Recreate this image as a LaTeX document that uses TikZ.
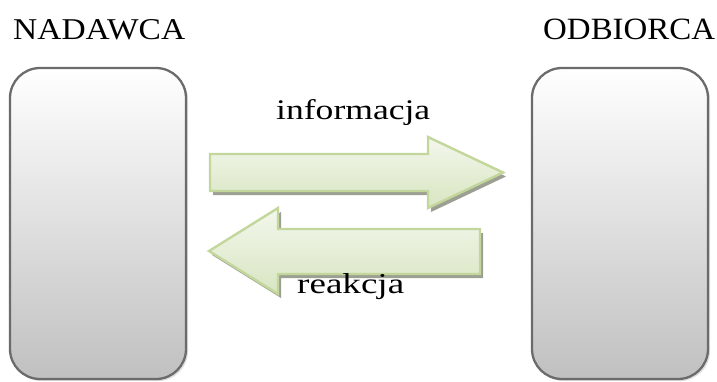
\documentclass[tikz,border=0pt]{standalone}
\usepackage{fontspec}
\setmainfont{Liberation Serif}
\usepackage{graphicx}
\usetikzlibrary{shadows}

\definecolor{boxline}{HTML}{6B6B6B}
\definecolor{boxbottom}{HTML}{C0C0C0}
\definecolor{arrowline}{HTML}{C3D69B}
\definecolor{arrowtop}{HTML}{F3F7EC}
\definecolor{arrowbottom}{HTML}{D8E5C1}
\definecolor{arrowshade}{HTML}{8A8F80}

\tikzset{
  party/.style={rectangle, rounded corners=30pt, draw=boxline, line width=2.3pt,
    top color=white, bottom color=boxbottom, minimum width=176pt,
    minimum height=311pt, inner sep=0pt,
    drop shadow={shadow xshift=2pt, shadow yshift=-2pt, fill=gray!45, opacity=0.6}},
  flow/.style={draw=arrowline, line width=2.4pt, line join=miter,
    top color=arrowtop, bottom color=arrowbottom,
    drop shadow={shadow xshift=3pt, shadow yshift=-4pt, fill=arrowshade, opacity=0.85}},
  caption/.style={inner sep=0pt, anchor=south west, text=black}
}

\begin{document}
\begin{tikzpicture}[x=1pt, y=-1pt]
  \useasboundingbox (0,0) rectangle (717,381);

  % the two parties
  \node[party] (sender) at (98,223.5) {};
  \node[party] (receiver) at (620,223.5) {};

  % their headings
  \node[caption] (sendername) at (13,40) {\resizebox{172pt}{20pt}{NADAWCA}};
  \node[caption] (receivername) at (543,39.5) {\resizebox{172pt}{20.5pt}{ODBIORCA}};

  % message: sender to receiver
  \path[flow] (210,154) -- (428,154) -- (428,137) -- (503,172.5)
    -- (428,208) -- (428,191) -- (210,191) -- cycle;
  \node[caption] (msglabel) at (276,126) {\resizebox{154pt}{20pt}{informacja}};

  % feedback: receiver to sender
  \path[flow] (480,229) -- (278,229) -- (278,208) -- (209,251)
    -- (278,294) -- (278,274) -- (480,274) -- cycle;
  \node[caption] (fblabel) at (297,300) {\resizebox{107pt}{20pt}{reakcja}};
\end{tikzpicture}
\end{document}
